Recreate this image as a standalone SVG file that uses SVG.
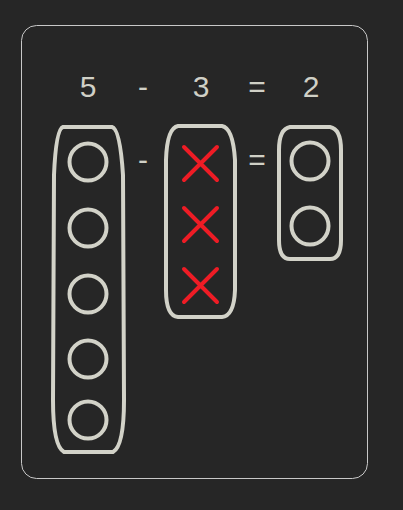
<svg xmlns="http://www.w3.org/2000/svg" width="403" height="510" viewBox="0 0 403 510">
<style>
.t{font-family:"Liberation Sans",Arial,sans-serif;font-size:30px;fill:#d0d0c6;text-anchor:middle}
.box{fill:none;stroke:#d2d2c8;stroke-width:4;stroke-linejoin:round}
.c{fill:none;stroke:#d2d2c8;stroke-width:4}
.x{stroke:#ee1c25;stroke-width:4;stroke-linecap:round}
</style>
<rect width="403" height="510" fill="#262626"/>
<rect x="21.5" y="25.5" width="346" height="453" rx="15" fill="none" stroke="#c8c8c8" stroke-width="1"/>
<g id="row1">
<text class="t" x="88" y="97">5</text>
<text class="t" x="143" y="97">-</text>
<text class="t" x="201" y="97">3</text>
<text class="t" x="257" y="97">=</text>
<text class="t" x="311" y="97">2</text>
</g>
<g id="ops">
<text class="t" x="143" y="170">-</text>
<text class="t" x="257" y="170">=</text>
</g>
<g id="five">
<path class="box" d="M63,127 L112,127 Q120,129 123,175 L124,400 Q124,446 113,452 L64,452 Q53,446 53,400 L54,175 Q56,129 63,127 Z"/>
<circle class="c" cx="88" cy="162" r="18.5"/>
<circle class="c" cx="88" cy="228" r="18.5"/>
<circle class="c" cx="88" cy="294" r="18.5"/>
<circle class="c" cx="88" cy="359" r="18.5"/>
<circle class="c" cx="88" cy="420" r="18.5"/>
</g>
<g id="three">
<path class="box" d="M178,126 L222,126 Q233,128 235,160 L235,290 Q234,316 222,317 L178,317 Q166,316 166,290 L166,160 Q167,128 178,126 Z"/>
<path class="x" d="M184,147 L217,180 M217,147 L184,180"/>
<path class="x" d="M184,208 L217,241 M217,208 L184,241"/>
<path class="x" d="M184,269 L217,302 M217,269 L184,302"/>
</g>
<g id="two">
<path class="box" d="M290,127 L330,127 Q341,129 341,150 L341,240 Q341,259 330,259 L290,259 Q279,259 279,240 L279,150 Q279,129 290,127 Z"/>
<circle class="c" cx="310" cy="161" r="18.5"/>
<circle class="c" cx="310" cy="226" r="18.5"/>
</g>
<g id="connectors"></g>
</svg>
